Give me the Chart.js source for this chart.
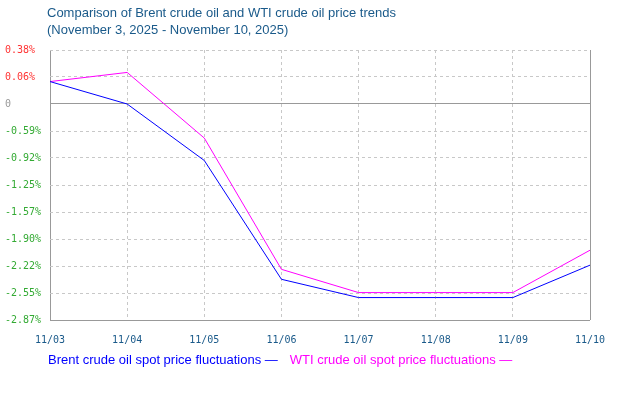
<!DOCTYPE html>
<html>
<head>
<meta charset="utf-8">
<style>
  html, body { margin: 0; padding: 0; background: #fff; }
  #wrap { width: 640px; height: 400px; }
</style>
</head>
<body>
<div id="wrap">
  <canvas id="myChart" width="640" height="400"></canvas>
</div>

<script src="https://cdn.jsdelivr.net/npm/chart.js"></script>
<script>
const labels = ['11/03', '11/04', '11/05', '11/06', '11/07', '11/08', '11/09', '11/10'];

// values in axis units
const brent = [0.0, -0.27, -0.95, -2.38, -2.60, -2.60, -2.60, -2.21];
const wti = [0.0, 0.11, -0.68, -2.26, -2.54, -2.54, -2.54, -2.03];

const yTickValues = [0.38, 0.055, -0.27, -0.595, -0.92, -1.245, -1.57, -1.895, -2.22, -2.545, -2.87];
const yTickLabels = ['0.38%', '0.06%', '0', '-0.59%', '-0.92%', '-1.25%', '-1.57%', '-1.90%', '-2.22%', '-2.55%', '-2.87%'];

const titleLines = ['Comparison of Brent crude oil and WTI crude oil price trends', '(November 3, 2025 - November 10, 2025)'];
const legendNames = ['Brent crude oil spot price fluctuations \u2014', 'WTI crude oil spot price fluctuations \u2014'];
const seriesColors = ['#0000ff', '#ff00ff'];

const ZERO_TICK = -0.27;
const near = (a, b) => Math.abs(a - b) < 1e-6;

// title + legend text drawn at fixed spots like the original
const textPlugin = {
  id: 'textPlugin',
  afterDraw(chart) {
    const c = chart.ctx;
    c.save();
    c.font = '13px "Liberation Sans", Arial, sans-serif';
    c.textBaseline = 'middle';
    c.textAlign = 'left';
    c.fillStyle = '#1a5a8a';
    c.fillText(titleLines[0], 47, 13);
    c.fillText(titleLines[1], 47, 30);

    let x = 48;
    legendNames.forEach((name, i) => {
      c.fillStyle = seriesColors[i];
      c.fillText(name, x, 360);
      x += c.measureText(name).width + 12;
    });
    c.restore();
  }
};

const ctx = document.getElementById('myChart');

new Chart(ctx, {
  type: 'line',
  data: {
    labels: labels,
    datasets: [{
      label: legendNames[0],
      data: brent,
      borderColor: seriesColors[0],
      borderWidth: 1,
      pointRadius: 0,
      tension: 0
    }, {
      label: legendNames[1],
      data: wti,
      borderColor: seriesColors[1],
      borderWidth: 1,
      pointRadius: 0,
      tension: 0
    }]
  },
  options: {
    responsive: false,
    animation: false,
    layout: { padding: { left: 5, right: 50, top: 50, bottom: 0 } },
    plugins: {
      legend: { display: false },
      title: { display: false },
      tooltip: { enabled: false }
    },
    scales: {
      x: {
        offset: false,
        afterFit(scale) { scale.height = 80; },
        grid: {
          drawTicks: false,
          color: (c) => (c.index === 0 || c.index === labels.length - 1) ? '#999999' : '#c8c8c8'
        },
        border: {
          display: false,
          dash: (c) => (c.index === 0 || c.index === labels.length - 1) ? [] : [3, 3]
        },
        ticks: {
          maxRotation: 0,
          autoSkip: false,
          padding: 14,
          color: '#1a5a8a',
          font: { family: '"DejaVu Sans Mono", monospace', size: 10 }
        }
      },
      y: {
        min: -2.87,
        max: 0.38,
        afterBuildTicks(scale) {
          scale.ticks = yTickValues.map(v => ({ value: v }));
        },
        afterFit(scale) { scale.width = 45; },
        grid: {
          drawTicks: false,
          color: (c) => {
            const v = c.tick ? c.tick.value : null;
            if (v !== null && (near(v, -2.87) || near(v, ZERO_TICK))) return '#999999';
            return '#c8c8c8';
          }
        },
        border: {
          display: false,
          dash: (c) => {
            const v = c.tick ? c.tick.value : null;
            if (v !== null && (near(v, -2.87) || near(v, ZERO_TICK))) return [];
            return [3, 3];
          }
        },
        ticks: {
          crossAlign: 'far',
          padding: 0,
          font: { family: '"DejaVu Sans Mono", monospace', size: 10 },
          color: (c) => {
            const v = c.tick.value;
            if (near(v, ZERO_TICK)) return '#999999';
            return v > 0 ? '#ff3333' : '#33aa33';
          },
          callback: (value, index) => yTickLabels[index]
        }
      }
    }
  },
  plugins: [textPlugin]
});
</script>
</body>
</html>
